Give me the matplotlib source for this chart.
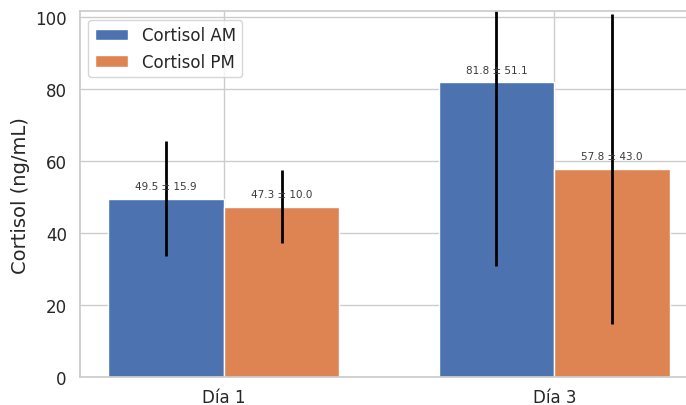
import numpy as np
import matplotlib
matplotlib.use("Agg")
import matplotlib.pyplot as plt
import seaborn as sns

# Data
days = ["Día 1", "Día 3"]
am_mean = [49.5, 81.8]
am_sd = [15.9, 51.1]
pm_mean = [47.3, 57.8]
pm_sd = [10.0, 43.0]

sns.set_theme(style="whitegrid")
plt.rcParams["font.family"] = ["DejaVu Sans"]

fig = plt.figure(figsize=(6.86, 4.06), dpi=100)
ax = fig.add_axes([0.1166, 0.069, 0.901, 0.901])

x = np.arange(len(days))
w = 0.35
palette = sns.color_palette("deep")

ax.bar(x - w / 2, am_mean, w, yerr=am_sd, color=palette[0],
       label="Cortisol AM", edgecolor="white",
       error_kw=dict(ecolor="black", elinewidth=2, capsize=0))
ax.bar(x + w / 2, pm_mean, w, yerr=pm_sd, color=palette[1],
       label="Cortisol PM", edgecolor="white",
       error_kw=dict(ecolor="black", elinewidth=2, capsize=0))

for xs, means, sds in [(x - w / 2, am_mean, am_sd), (x + w / 2, pm_mean, pm_sd)]:
    for xi, m, s in zip(xs, means, sds):
        ax.text(xi, m + 2, f"{m:.1f} ± {s:.1f}", ha="center", va="bottom",
                fontsize=7.5, color="#3a3a3a")

ax.set_xticks(x)
ax.set_xticklabels(days)
ax.tick_params(axis="both", labelsize=12)
ax.tick_params(axis="x", pad=2)
ax.set_ylabel("Cortisol (ng/mL)", fontsize=14)
ax.set_ylim(0, 101.5)
ax.set_xlim(-0.435, 1.435)
ax.legend(loc="upper left", fontsize=12)

fig.savefig("out.png", dpi=100)
